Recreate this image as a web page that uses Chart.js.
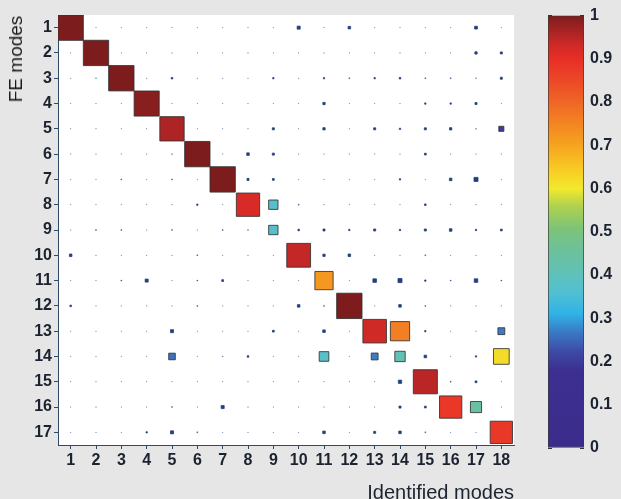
<!DOCTYPE html>
<html><head><meta charset="utf-8">
<script src="https://cdn.jsdelivr.net/npm/chart.js@4.4.0/dist/chart.umd.min.js"></script>
<style>
html,body{margin:0;padding:0;background:#e6e6e6;width:621px;height:499px;overflow:hidden;}
#wrap{position:relative;width:621px;height:499px;background:#e6e6e6;}
#main{position:absolute;left:0;top:0;width:621px;height:499px;}
#cb{position:absolute;left:540px;top:0;width:81px;height:499px;}
#ytitle{position:absolute;left:16px;top:59px;transform:translate(-50%,-50%) rotate(-90deg);font:19px "Liberation Sans",Arial,sans-serif;color:#1a1a1a;white-space:nowrap;}
</style></head>
<body><div id="wrap">
<canvas id="main" width="621" height="499"></canvas>
<canvas id="cb" width="81" height="499"></canvas>
<div id="ytitle">FE modes</div>
</div>
<script>
// ---- data ----
const identifiedModes = ['1','2','3','4','5','6','7','8','9','10','11','12','13','14','15','16','17','18'];
const feModes = ['1','2','3','4','5','6','7','8','9','10','11','12','13','14','15','16','17'];
const colorbarTicks = [0,0.1,0.2,0.3,0.4,0.5,0.6,0.7,0.8,0.9,1];
const colorbarLabels = ['0','0.1','0.2','0.3','0.4','0.5','0.6','0.7','0.8','0.9','1'];

// MAC values, one array per FE mode (columns = identified modes 1..18)
const fe1  = [1.00,0.02,0.02,0.02,0.02,0.02,0.02,0.02,0.02,0.12,0.02,0.10,0.02,0.02,0.02,0.02,0.11,0.02];
const fe2  = [0.02,1.00,0.02,0.02,0.02,0.02,0.02,0.02,0.02,0.02,0.02,0.02,0.02,0.02,0.02,0.02,0.09,0.08];
const fe3  = [0.02,0.03,1.00,0.02,0.06,0.02,0.02,0.02,0.05,0.02,0.05,0.04,0.05,0.06,0.04,0.04,0.03,0.08];
const fe4  = [0.02,0.02,0.02,0.99,0.02,0.02,0.02,0.02,0.02,0.02,0.09,0.02,0.02,0.02,0.05,0.05,0.08,0.02];
const fe5  = [0.02,0.02,0.02,0.02,0.96,0.02,0.02,0.02,0.08,0.02,0.09,0.02,0.08,0.05,0.08,0.09,0.03,0.20];
const fe6  = [0.02,0.02,0.02,0.02,0.03,1.00,0.02,0.10,0.08,0.02,0.02,0.02,0.02,0.02,0.07,0.02,0.02,0.02];
const fe7  = [0.02,0.02,0.04,0.02,0.04,0.02,1.00,0.08,0.07,0.02,0.02,0.02,0.02,0.05,0.02,0.10,0.16,0.02];
const fe8  = [0.02,0.02,0.02,0.02,0.02,0.05,0.02,0.92,0.37,0.04,0.02,0.02,0.02,0.02,0.06,0.02,0.02,0.02];
const fe9  = [0.02,0.04,0.04,0.02,0.04,0.02,0.04,0.03,0.37,0.06,0.08,0.05,0.08,0.05,0.08,0.10,0.05,0.07];
const fe10 = [0.10,0.02,0.02,0.02,0.02,0.04,0.02,0.02,0.02,0.94,0.09,0.10,0.02,0.02,0.04,0.02,0.02,0.02];
const fe11 = [0.02,0.02,0.04,0.12,0.02,0.04,0.07,0.02,0.02,0.02,0.72,0.02,0.14,0.16,0.05,0.04,0.14,0.04];
const fe12 = [0.06,0.02,0.02,0.02,0.02,0.04,0.02,0.02,0.02,0.10,0.04,1.00,0.02,0.10,0.04,0.02,0.02,0.02];
const fe13 = [0.02,0.02,0.02,0.02,0.12,0.02,0.02,0.02,0.07,0.02,0.10,0.02,0.93,0.76,0.05,0.02,0.02,0.27];
const fe14 = [0.02,0.02,0.02,0.02,0.26,0.02,0.03,0.06,0.02,0.02,0.38,0.02,0.27,0.41,0.10,0.02,0.05,0.62];
const fe15 = [0.02,0.02,0.02,0.02,0.02,0.02,0.02,0.02,0.02,0.02,0.02,0.02,0.02,0.13,0.95,0.04,0.07,0.02];
const fe16 = [0.02,0.02,0.02,0.02,0.04,0.02,0.12,0.02,0.02,0.02,0.02,0.02,0.02,0.08,0.07,0.88,0.44,0.02];
const fe17 = [0.02,0.02,0.02,0.05,0.12,0.04,0.02,0.02,0.02,0.02,0.10,0.02,0.08,0.10,0.04,0.02,0.02,0.88];
const macRows = [fe1,fe2,fe3,fe4,fe5,fe6,fe7,fe8,fe9,fe10,fe11,fe12,fe13,fe14,fe15,fe16,fe17];

// ---- styles ----
const cmapStops = [
 [0.00,'#3b2c8b'],[0.18,'#3c2f8f'],[0.22,'#3d48a4'],[0.27,'#3a7cc6'],[0.31,'#2fb2e6'],
 [0.36,'#52c0d2'],[0.41,'#62c1b4'],[0.46,'#6dc19a'],[0.51,'#7ec476'],[0.56,'#b0d24e'],
 [0.60,'#f2e92c'],[0.65,'#f8c724'],[0.70,'#f6a41e'],[0.75,'#f38522'],[0.80,'#ef6626'],
 [0.85,'#ec4828'],[0.90,'#e72e26'],[0.93,'#d02a27'],[0.96,'#ad2424'],[1.00,'#7d1c1c']];
function hex2rgb(h){return [parseInt(h.slice(1,3),16),parseInt(h.slice(3,5),16),parseInt(h.slice(5,7),16)];}
function cmap(v){
  v=Math.max(0,Math.min(1,v));
  for(let i=1;i<cmapStops.length;i++){
    const [p1,c1]=cmapStops[i-1],[p2,c2]=cmapStops[i];
    if(v<=p2){const t=(v-p1)/(p2-p1||1);const a=hex2rgb(c1),b=hex2rgb(c2);
      return 'rgb('+a.map((x,k)=>Math.round(x+(b[k]-x)*t)).join(',')+')';}
  }
  return cmapStops[cmapStops.length-1][1];
}
const dotColor = '#24407c';
const FONT = '"Liberation Sans", Arial, sans-serif';
const axisColor = '#2f4a66';
const textColor = '#1b2330';

const points = [];
macRows.forEach((row,r)=>row.forEach((v,c)=>points.push({x:c+1,y:r+1,v:v})));
points.sort((a,b)=>a.v-b.v);

const plotBg = {id:'plotBg', beforeDraw(chart){const {ctx,chartArea:a}=chart; ctx.save(); ctx.fillStyle='#ffffff'; ctx.fillRect(a.left,a.top,a.right-a.left,a.bottom-a.top); ctx.restore();}};

new Chart(document.getElementById('main'), {
  type:'scatter',
  data:{datasets:[{
    data:points,
    pointStyle:'rect',
    pointRadius: ctx=>{const s=ctx.chart.scales.x; const cell=Math.abs(s.getPixelForValue(2)-s.getPixelForValue(1)); return ctx.raw.v*cell/Math.SQRT2;},
    backgroundColor: ctx=>ctx.raw.v>=0.2?cmap(ctx.raw.v):dotColor,
    borderColor: ctx=>ctx.raw.v>=0.2?'rgba(50,50,50,0.85)':(ctx.raw.v<0.05?'rgba(60,110,170,0.35)':'rgba(36,64,124,0.8)'),
    borderWidth: 1
  }]},
  options:{
    responsive:false, animation:false, events:[],
    layout:{padding:{left:0,top:15,right:107,bottom:0}},
    plugins:{legend:{display:false},tooltip:{enabled:false}},
    scales:{
      x:{type:'linear',position:'bottom',min:0.5,max:18.5,
        afterBuildTicks:s=>{s.ticks=identifiedModes.map((l,i)=>({value:i+1}));},
        ticks:{callback:(v,i)=>identifiedModes[i],font:{family:FONT,size:16,weight:'bold'},color:textColor,padding:2,maxRotation:0,autoSkip:false},
        grid:{drawOnChartArea:false,drawTicks:true,tickLength:4,color:axisColor},
        border:{color:axisColor,width:1},
        title:{display:true,text:'Identified modes',align:'end',color:textColor,font:{family:FONT,size:20,lineHeight:1},padding:{top:0,bottom:-4}},
        afterFit:s=>{s.height=54;}
      },
      y:{type:'linear',reverse:true,min:0.5,max:17.5,
        afterBuildTicks:s=>{s.ticks=feModes.map((l,i)=>({value:i+1}));},
        ticks:{callback:(v,i)=>feModes[i],font:{family:FONT,size:16,weight:'bold'},color:textColor,padding:2,autoSkip:false},
        grid:{drawOnChartArea:false,drawTicks:true,tickLength:4,color:axisColor},
        border:{color:axisColor,width:1},
        afterFit:s=>{s.width=58;}
      }
    }
  },
  plugins:[plotBg]
});

new Chart(document.getElementById('cb'), {
  type:'bar',
  data:{labels:['MAC'],datasets:[{
    data:[1],
    backgroundColor: ctx=>{const a=ctx.chart.chartArea; if(!a) return '#3b2c8b';
      const g=ctx.chart.ctx.createLinearGradient(0,a.bottom,0,a.top); cmapStops.forEach(([p,c])=>g.addColorStop(p,c)); return g;},
    borderColor:'#3a3a3a',borderWidth:1,borderSkipped:false,barPercentage:1,categoryPercentage:1
  }]},
  options:{
    responsive:false, animation:false, events:[],
    layout:{padding:{left:8,top:15,right:0,bottom:51}},
    plugins:{legend:{display:false},tooltip:{enabled:false}},
    scales:{
      x:{display:false},
      y:{position:'right',min:0,max:1,z:1,
        afterBuildTicks:s=>{s.ticks=colorbarTicks.map(v=>({value:v}));},
        ticks:{callback:(v,i)=>colorbarLabels[i],font:{family:FONT,size:16,weight:'bold'},color:textColor,padding:6},
        grid:{drawTicks:false,color:'#333333',lineWidth:1},
        border:{display:false,dash:[4,28]},
        afterFit:s=>{s.width=37;}
      }
    }
  }
});
</script>
</body></html>
